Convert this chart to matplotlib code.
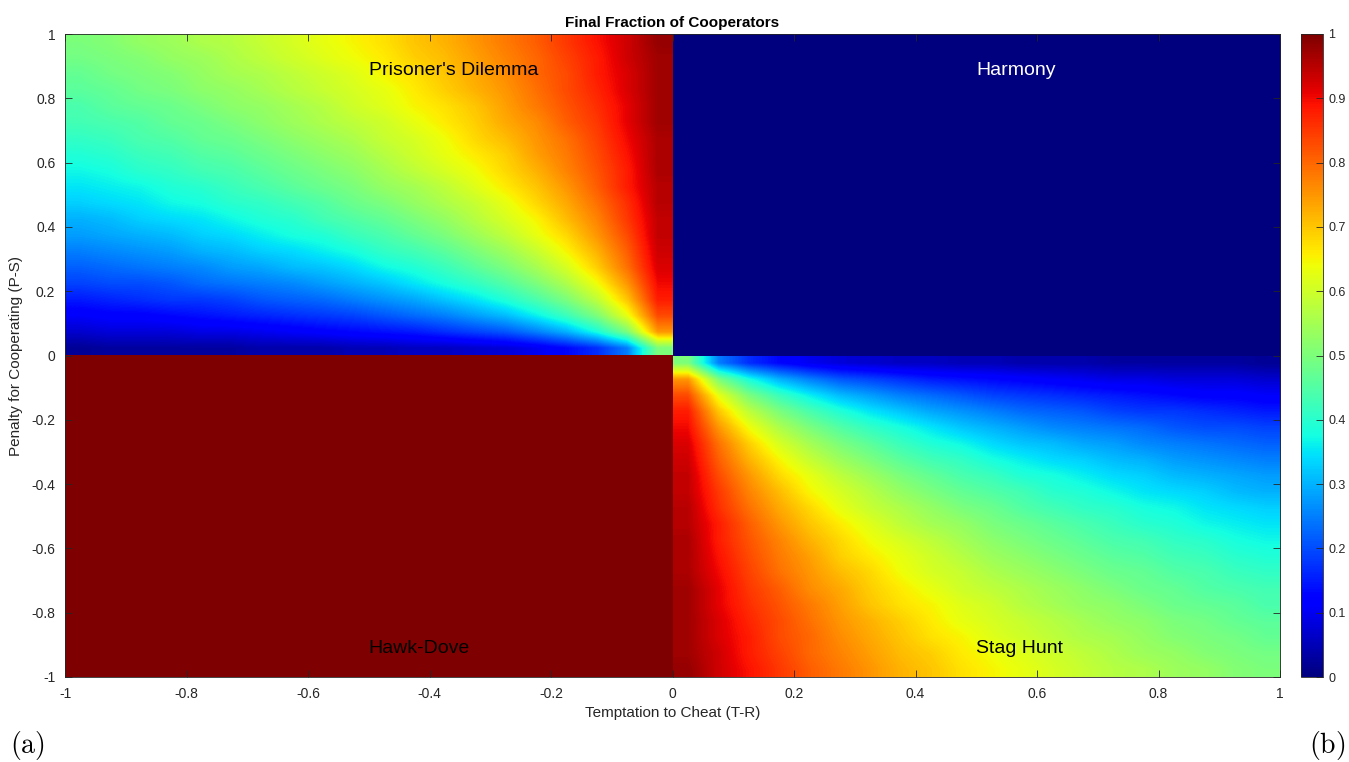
import numpy as np
import matplotlib
matplotlib.use("Agg")
import matplotlib.pyplot as plt
from matplotlib.colors import Normalize
from matplotlib.cm import ScalarMappable

# ---------------- data ----------------
x_ticks = [-1, -0.8, -0.6, -0.4, -0.2, 0, 0.2, 0.4, 0.6, 0.8, 1]
y_ticks = [-1, -0.8, -0.6, -0.4, -0.2, 0, 0.2, 0.4, 0.6, 0.8, 1]
cbar_ticks = [0, 0.1, 0.2, 0.3, 0.4, 0.5, 0.6, 0.7, 0.8, 0.9, 1]

region_names = ["Prisoner's Dilemma", "Harmony", "Hawk-Dove", "Stag Hunt"]
region_label_x = [-0.5, 0.5, -0.5, 0.5]
region_label_y = [0.888, 0.888, -0.912, -0.912]
region_label_colors = ['black', 'white', 'black', 'black']

harmony_value = 0.0      # upper-right quadrant (T-R > 0, P-S > 0)
hawk_dove_value = 1.0    # lower-left quadrant (T-R < 0, P-S < 0)

# Prisoner's Dilemma quadrant (x in [-1,0], y in [0,1]); rows top->bottom, cols left->right
pd_quadrant = [
    [0.50,0.51,0.53,0.54,0.56,0.57,0.59,0.61,0.63,0.65,0.67,0.70,0.72,0.75,0.78,0.81,0.85,0.89,0.93,0.98],
    [0.49,0.50,0.51,0.53,0.54,0.56,0.58,0.60,0.62,0.64,0.66,0.69,0.71,0.74,0.77,0.80,0.84,0.88,0.93,0.97],
    [0.47,0.49,0.50,0.51,0.53,0.55,0.56,0.58,0.60,0.62,0.65,0.67,0.70,0.73,0.76,0.80,0.83,0.88,0.92,0.97],
    [0.46,0.47,0.49,0.50,0.52,0.53,0.55,0.57,0.59,0.61,0.63,0.66,0.69,0.72,0.75,0.79,0.83,0.87,0.92,0.97],
    [0.44,0.46,0.47,0.48,0.50,0.52,0.53,0.55,0.57,0.60,0.62,0.65,0.67,0.70,0.74,0.78,0.82,0.86,0.91,0.97],
    [0.43,0.44,0.45,0.47,0.48,0.50,0.52,0.54,0.56,0.58,0.60,0.63,0.66,0.69,0.73,0.76,0.81,0.85,0.91,0.97],
    [0.41,0.42,0.44,0.45,0.47,0.48,0.50,0.52,0.54,0.56,0.59,0.61,0.64,0.68,0.71,0.75,0.79,0.84,0.90,0.96],
    [0.39,0.40,0.42,0.43,0.45,0.46,0.48,0.50,0.52,0.54,0.57,0.60,0.63,0.66,0.69,0.74,0.78,0.83,0.89,0.96],
    [0.37,0.38,0.40,0.41,0.43,0.44,0.46,0.48,0.50,0.52,0.55,0.58,0.61,0.64,0.68,0.72,0.77,0.82,0.88,0.96],
    [0.35,0.36,0.37,0.39,0.40,0.42,0.44,0.46,0.48,0.50,0.53,0.55,0.58,0.62,0.66,0.70,0.75,0.81,0.88,0.95],
    [0.33,0.34,0.35,0.37,0.38,0.40,0.41,0.43,0.45,0.48,0.50,0.53,0.56,0.59,0.63,0.68,0.73,0.79,0.86,0.95],
    [0.30,0.31,0.33,0.34,0.35,0.37,0.39,0.40,0.43,0.45,0.47,0.50,0.53,0.57,0.61,0.65,0.71,0.77,0.85,0.94],
    [0.28,0.29,0.30,0.31,0.33,0.34,0.36,0.38,0.39,0.42,0.44,0.47,0.50,0.54,0.58,0.63,0.68,0.75,0.83,0.94],
    [0.25,0.26,0.27,0.28,0.30,0.31,0.33,0.34,0.36,0.38,0.41,0.43,0.46,0.50,0.54,0.59,0.65,0.72,0.81,0.93],
    [0.22,0.23,0.24,0.25,0.26,0.28,0.29,0.31,0.32,0.34,0.37,0.39,0.42,0.46,0.50,0.55,0.61,0.69,0.79,0.92],
    [0.19,0.20,0.20,0.21,0.23,0.24,0.25,0.26,0.28,0.30,0.32,0.35,0.38,0.41,0.45,0.50,0.56,0.64,0.75,0.90],
    [0.15,0.16,0.17,0.18,0.18,0.19,0.21,0.22,0.23,0.25,0.27,0.29,0.32,0.35,0.39,0.44,0.50,0.58,0.70,0.88],
    [0.11,0.12,0.12,0.13,0.14,0.15,0.16,0.17,0.18,0.19,0.21,0.23,0.25,0.28,0.31,0.36,0.42,0.50,0.63,0.83],
    [0.07,0.08,0.08,0.08,0.09,0.09,0.10,0.11,0.12,0.13,0.14,0.15,0.17,0.19,0.21,0.25,0.30,0.38,0.50,0.75],
    [0.02,0.03,0.03,0.03,0.03,0.03,0.04,0.04,0.04,0.05,0.05,0.06,0.06,0.07,0.08,0.10,0.13,0.17,0.25,0.50],
]

# Stag Hunt quadrant (x in [0,1], y in [-1,0]); rows top->bottom, cols left->right
sh_quadrant = [
    [0.50,0.25,0.17,0.13,0.10,0.08,0.07,0.06,0.06,0.05,0.05,0.04,0.04,0.04,0.03,0.03,0.03,0.03,0.03,0.02],
    [0.75,0.50,0.38,0.30,0.25,0.21,0.19,0.17,0.15,0.14,0.13,0.12,0.11,0.10,0.09,0.09,0.08,0.08,0.08,0.07],
    [0.83,0.63,0.50,0.42,0.36,0.31,0.28,0.25,0.23,0.21,0.19,0.18,0.17,0.16,0.15,0.14,0.13,0.12,0.12,0.11],
    [0.88,0.70,0.58,0.50,0.44,0.39,0.35,0.32,0.29,0.27,0.25,0.23,0.22,0.21,0.19,0.18,0.18,0.17,0.16,0.15],
    [0.90,0.75,0.64,0.56,0.50,0.45,0.41,0.38,0.35,0.32,0.30,0.28,0.26,0.25,0.24,0.23,0.21,0.20,0.20,0.19],
    [0.92,0.79,0.69,0.61,0.55,0.50,0.46,0.42,0.39,0.37,0.34,0.32,0.31,0.29,0.28,0.26,0.25,0.24,0.23,0.22],
    [0.93,0.81,0.72,0.65,0.59,0.54,0.50,0.46,0.43,0.41,0.38,0.36,0.34,0.33,0.31,0.30,0.28,0.27,0.26,0.25],
    [0.94,0.83,0.75,0.68,0.63,0.58,0.54,0.50,0.47,0.44,0.42,0.39,0.38,0.36,0.34,0.33,0.31,0.30,0.29,0.28],
    [0.94,0.85,0.77,0.71,0.65,0.61,0.57,0.53,0.50,0.47,0.45,0.43,0.40,0.39,0.37,0.35,0.34,0.33,0.31,0.30],
    [0.95,0.86,0.79,0.73,0.68,0.63,0.59,0.56,0.53,0.50,0.48,0.45,0.43,0.41,0.40,0.38,0.37,0.35,0.34,0.33],
    [0.95,0.88,0.81,0.75,0.70,0.66,0.62,0.58,0.55,0.53,0.50,0.48,0.46,0.44,0.42,0.40,0.39,0.37,0.36,0.35],
    [0.96,0.88,0.82,0.77,0.72,0.68,0.64,0.61,0.58,0.55,0.52,0.50,0.48,0.46,0.44,0.43,0.41,0.40,0.38,0.37],
    [0.96,0.89,0.83,0.78,0.74,0.69,0.66,0.63,0.60,0.57,0.54,0.52,0.50,0.48,0.46,0.45,0.43,0.42,0.40,0.39],
    [0.96,0.90,0.84,0.79,0.75,0.71,0.68,0.64,0.61,0.59,0.56,0.54,0.52,0.50,0.48,0.47,0.45,0.44,0.42,0.41],
    [0.97,0.91,0.85,0.81,0.76,0.73,0.69,0.66,0.63,0.60,0.58,0.56,0.54,0.52,0.50,0.48,0.47,0.45,0.44,0.43],
    [0.97,0.91,0.86,0.82,0.78,0.74,0.70,0.67,0.65,0.62,0.60,0.57,0.55,0.53,0.52,0.50,0.48,0.47,0.46,0.44],
    [0.97,0.92,0.87,0.83,0.79,0.75,0.72,0.69,0.66,0.63,0.61,0.59,0.57,0.55,0.53,0.52,0.50,0.49,0.47,0.46],
    [0.97,0.92,0.88,0.83,0.80,0.76,0.73,0.70,0.67,0.65,0.62,0.60,0.58,0.56,0.55,0.53,0.51,0.50,0.49,0.47],
    [0.97,0.93,0.88,0.84,0.80,0.77,0.74,0.71,0.69,0.66,0.64,0.62,0.60,0.58,0.56,0.54,0.53,0.51,0.50,0.49],
    [0.98,0.93,0.89,0.85,0.81,0.78,0.75,0.72,0.70,0.67,0.65,0.63,0.61,0.59,0.57,0.56,0.54,0.53,0.51,0.50],
]

# ---------------- figure ----------------
plt.rcParams['font.family'] = ['Liberation Sans', 'DejaVu Sans']
plt.rcParams['mathtext.fontset'] = 'cm'

W, H = 1349, 762
fig = plt.figure(figsize=(W / 100, H / 100), dpi=100)
fig.patch.set_facecolor('white')

ax_l, ax_r, ax_t, ax_b = 65, 1280, 34, 677
ax = fig.add_axes([ax_l / W, 1 - ax_b / H, (ax_r - ax_l) / W, (ax_b - ax_t) / H])

cmap = plt.get_cmap('jet')
norm = Normalize(vmin=0, vmax=1)
common = dict(cmap=cmap, norm=norm, origin='upper', aspect='auto',
              interpolation='bilinear', interpolation_stage='data')

ax.imshow(np.array(pd_quadrant), extent=(-1, 0, 0, 1), **common)
ax.imshow(np.array(sh_quadrant), extent=(0, 1, -1, 0), **common)
ax.imshow(np.full((2, 2), harmony_value), extent=(0, 1, 0, 1), **common)
ax.imshow(np.full((2, 2), hawk_dove_value), extent=(-1, 0, -1, 0), **common)

ax.set_xlim(-1, 1)
ax.set_ylim(-1, 1)

frame_col = (0.15, 0.15, 0.15)
ax.set_xticks(x_ticks)
ax.set_yticks(y_ticks)
ax.set_xticklabels([f"{v:g}" for v in x_ticks])
ax.set_yticklabels([f"{v:g}" for v in y_ticks])
ax.tick_params(direction='in', length=5, width=0.6, top=True, right=True,
               labelsize=10, colors=frame_col, pad=7)
for s in ax.spines.values():
    s.set_linewidth(0.6)
    s.set_edgecolor(frame_col)

ax.set_xlabel('Temptation to Cheat (T-R)', fontsize=11, color=frame_col, labelpad=4)
ax.set_ylabel('Penalty for Cooperating (P-S)', fontsize=11, color=frame_col, labelpad=6)
ax.set_title('Final Fraction of Cooperators', fontsize=11, fontweight='bold',
             color='black', pad=5)

for name, tx, ty, tc in zip(region_names, region_label_x, region_label_y, region_label_colors):
    ax.text(tx, ty, name, ha='left', va='center', fontsize=14, color=tc)

# colorbar
cax = fig.add_axes([1301 / W, 1 - ax_b / H, 22 / W, (ax_b - ax_t) / H])
cb = fig.colorbar(ScalarMappable(norm=norm, cmap=cmap), cax=cax)
cb.set_ticks(cbar_ticks)
cb.set_ticklabels([f"{v:g}" for v in cbar_ticks])
cb.ax.tick_params(direction='in', length=5, width=0.6, labelsize=9,
                  colors=frame_col, pad=4)
cb.outline.set_linewidth(0.6)
cb.outline.set_edgecolor(frame_col)

# panel letters
fig.text(10 / W, 1 - 745 / H, r'$\mathrm{(a)}$', fontsize=20, va='center', ha='left')
fig.text(1345 / W, 1 - 745 / H, r'$\mathrm{(b)}$', fontsize=20, va='center', ha='right')

fig.savefig('out.png', dpi=100)
